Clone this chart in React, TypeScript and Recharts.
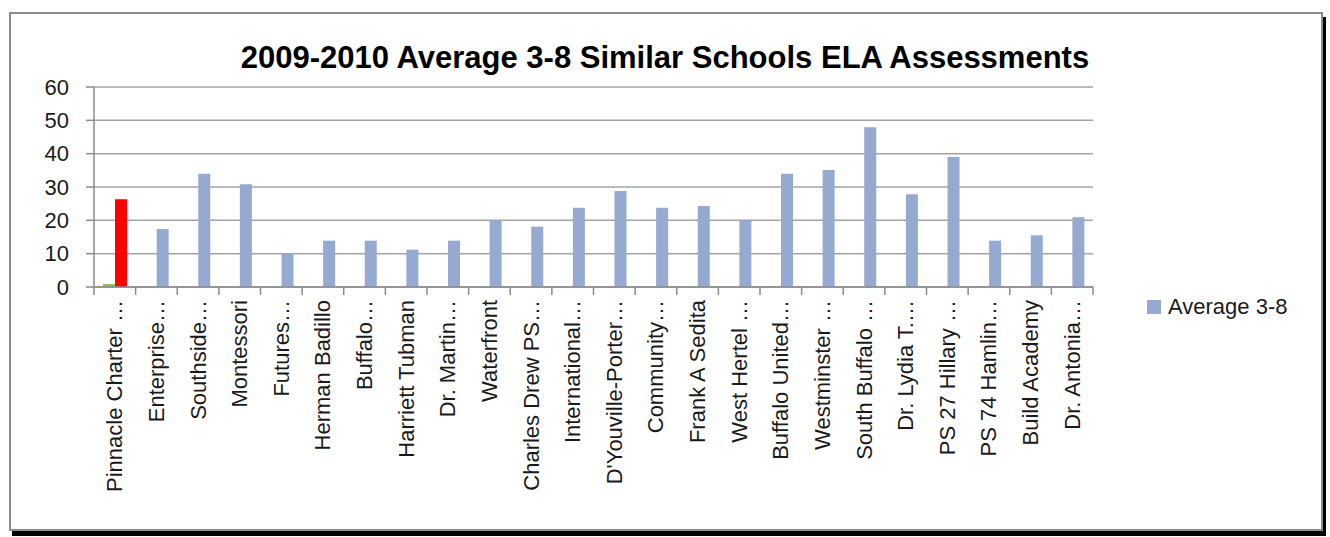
import React from "react"
import {
  BarChart,
  Bar,
  Cell,
  XAxis,
  YAxis,
  CartesianGrid,
} from "recharts"

const schools = [
  "Pinnacle Charter …",
  "Enterprise…",
  "Southside…",
  "Montessori",
  "Futures…",
  "Herman Badillo",
  "Buffalo…",
  "Harriett Tubman",
  "Dr. Martin…",
  "Waterfront",
  "Charles Drew PS…",
  "International…",
  "D'Youville-Porter…",
  "Community…",
  "Frank A Sedita",
  "West Hertel …",
  "Buffalo United…",
  "Westminster …",
  "South Buffalo …",
  "Dr. Lydia T.…",
  "PS 27 Hillary …",
  "PS 74 Hamlin…",
  "Build Academy",
  "Dr. Antonia…",
]

const average38 = [
  26.3, 17.4, 34.0, 30.8, 10.0, 13.9, 13.9, 11.2, 13.9, 20.0, 18.1, 23.8,
  28.8, 23.8, 24.3, 19.9, 34.0, 35.1, 47.9, 27.8, 39.0, 13.9, 15.5, 20.9,
]

// small green bar that only shows up next to Pinnacle
const pinnacleMark = [
  0.9, null, null, null, null, null, null, null, null, null, null, null,
  null, null, null, null, null, null, null, null, null, null, null, null,
]

const yTicks = [0, 10, 20, 30, 40, 50, 60]

const seriesName = "Average 3-8"

const data = schools.map((name, i) => ({
  name,
  average: average38[i],
  mark: pinnacleMark[i],
}))

const FONT = "'Liberation Sans', Arial, sans-serif"
const PLOT_LEFT = 94
const PLOT_RIGHT = 1093
const STEP = (PLOT_RIGHT - PLOT_LEFT) / schools.length
const TICK_LEN = 8
const LABEL_GAP = 5
const AXIS_GREY = "#8a8a8a"
const BLUE = "#95a9d1"

const SchoolTick = (props: any) => {
  const { x, y, payload, index } = props
  const axisY = y - TICK_LEN - LABEL_GAP
  return (
    <g>
      <line x1={x - STEP / 2} x2={x - STEP / 2} y1={axisY} y2={axisY + TICK_LEN} stroke={AXIS_GREY} strokeWidth={1.5} />
      {index === schools.length - 1 && (
        <line x1={x + STEP / 2} x2={x + STEP / 2} y1={axisY} y2={axisY + TICK_LEN} stroke={AXIS_GREY} strokeWidth={1.5} />
      )}
      <text
        x={x}
        y={y}
        transform={`rotate(-90, ${x}, ${y})`}
        textAnchor="end"
        dominantBaseline="central"
        fontSize={22}
        fontFamily={FONT}
        fill="#1a1a1a"
      >
        {payload.value}
      </text>
    </g>
  )
}

export default function App() {
  return (
    <div style={{ position: "absolute", left: 0, top: 0, width: 1330, height: 537, background: "#fff" }}>
      <div
        style={{
          position: "absolute",
          left: 9,
          top: 12,
          width: 1310,
          height: 515,
          border: "2px solid #8c8c8c",
          boxShadow: "3px 5px 0 #000",
          background: "#fff",
        }}
      />
      <div
        style={{
          position: "absolute",
          left: 0,
          top: 40,
          width: 1330,
          height: 36,
          lineHeight: "36px",
          textAlign: "center",
          fontFamily: FONT,
          fontWeight: "bold",
          fontSize: 31,
          color: "#000",
        }}
      >
        2009-2010 Average 3-8 Similar Schools ELA Assessments
      </div>
      <div style={{ position: "absolute", left: 0, top: 0 }}>
        <BarChart
          width={1330}
          height={537}
          data={data}
          margin={{ top: 87, right: 1330 - PLOT_RIGHT, bottom: 0, left: 0 }}
          barGap={0}
          barSize={12}
        >
          <CartesianGrid vertical={false} stroke="#a3a3a3" strokeWidth={1.5} />
          <XAxis
            dataKey="name"
            interval={0}
            height={250}
            tickLine={false}
            tickSize={TICK_LEN}
            tickMargin={LABEL_GAP}
            axisLine={{ stroke: AXIS_GREY, strokeWidth: 1.5 }}
            tick={<SchoolTick />}
          />
          <YAxis
            domain={[0, 60]}
            ticks={yTicks}
            interval={0}
            width={PLOT_LEFT}
            tickSize={TICK_LEN}
            tickMargin={17}
            axisLine={{ stroke: AXIS_GREY, strokeWidth: 1.5 }}
            tickLine={{ stroke: AXIS_GREY, strokeWidth: 1.5 }}
            tick={{ fill: "#1a1a1a", fontSize: 22, fontFamily: FONT }}
          />
          <Bar dataKey="mark" name="Pinnacle" fill="#9bbb59" isAnimationActive={false} />
          <Bar dataKey="average" name={seriesName} fill={BLUE} isAnimationActive={false}>
            {data.map((d, i) => (
              <Cell key={d.name} fill={i === 0 ? "#ff0000" : BLUE} />
            ))}
          </Bar>
        </BarChart>
      </div>
      <div
        style={{
          position: "absolute",
          left: 1147,
          top: 294,
          display: "flex",
          alignItems: "center",
          fontFamily: FONT,
          fontSize: 22,
          color: "#1a1a1a",
          lineHeight: "26px",
        }}
      >
        <span style={{ width: 14, height: 14, background: BLUE, marginRight: 7, display: "inline-block" }} />
        {seriesName}
      </div>
    </div>
  )
}
